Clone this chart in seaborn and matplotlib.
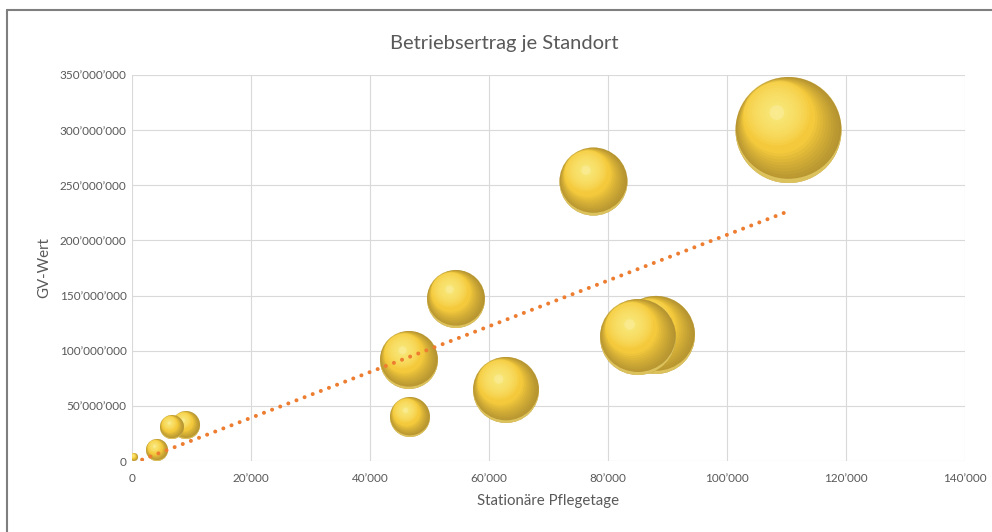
import numpy as np
import pandas as pd
import seaborn as sns
import matplotlib.pyplot as plt
from matplotlib.path import Path
from matplotlib.lines import Line2D
from matplotlib.transforms import Affine2D
from matplotlib.ticker import FuncFormatter

# Standorte: stationaere Pflegetage (x), GV-Wert (y), Blasengroesse
pflegetage = [340, 4200, 9080, 6720, 46720, 46550, 54450, 62860, 77560, 88070, 85040, 110340]
gv_wert = [3.6e6, 10.0e6, 32.6e6, 30.8e6, 39.9e6, 91.6e6, 146.9e6, 64.4e6,
           253.4e6, 114.3e6, 112.4e6, 300.1e6]
groesse = [16, 121, 196, 144, 400, 841, 841, 1089, 1156, 1521, 1444, 2809]

x_ticks = [0, 20000, 40000, 60000, 80000, 100000, 120000, 140000]
y_ticks = [0, 50e6, 100e6, 150e6, 200e6, 250e6, 300e6, 350e6]

df = pd.DataFrame({"pflegetage": pflegetage, "gv_wert": gv_wert, "groesse": groesse})
# bigger bubbles first, smaller ones end up in front
df = df.sort_values("groesse", ascending=False, kind="stable").reset_index(drop=True)

TEXT = "#595959"
GRID = "#D9D9D9"
TREND = "#ED7D31"

sns.set_style("whitegrid", {"grid.color": GRID})
plt.rcParams["font.family"] = ["Lato", "DejaVu Sans"]

fig = plt.figure(figsize=(9.92, 5.32), dpi=100)
ax = fig.add_axes([132 / 992, 1 - 461 / 532, (965 - 132) / 992, (461 - 75) / 532])

# --- shaded "3D" bubbles built from layered marker paths -------------------
ANCHOR = Path([(-1, -1), (1, 1)], [Path.MOVETO, Path.MOVETO])  # fixes marker scale


def disc(center, radius):
    return Path.make_compound_path(ANCHOR, Path.circle(center=center, radius=radius))


def crescent(inner):
    # unit circle with the inner shape cut out (reversed winding -> hole)
    v = inner.vertices[:-1][::-1]
    v = np.vstack([v, v[:1]])
    codes = [Path.MOVETO] + [Path.CURVE4] * (len(v) - 2) + [Path.CLOSEPOLY]
    return Path.make_compound_path(ANCHOR, Path.circle((0, 0), 1.0), Path(v, codes))


light_dir = np.array([-0.6, 0.8])
layers = [(disc((0, 0), 1.0), "#F4CA3C", 1.0)]
for r in np.linspace(0.97, 0.68, 10):
    layers.append((crescent(Path.circle(light_dir * (1 - r) * 0.92, r)), "#6E5828", 0.06))
rim = Path.unit_circle().transformed(Affine2D().scale(0.995, 0.96).translate(0, 0.04))
layers.append((crescent(rim), "#F8E27C", 0.6))
hl = np.array([-0.22, 0.33])
for r in np.linspace(0.62, 0.06, 12):
    layers.append((disc(hl, r), "#FFF28A", 0.12))
layers.append((disc(hl, 0.14), "#FFFBD8", 0.25))

size_max = 5822
for i in range(len(df)):
    row = df.iloc[[i]]
    for path, col, a in layers:
        sns.scatterplot(data=row, x="pflegetage", y="gv_wert", size="groesse",
                        sizes=(0, size_max), size_norm=(0, max(groesse)),
                        marker=path, color=col, alpha=a, edgecolor="none",
                        linewidth=0, legend=False, ax=ax, zorder=2)

# --- linear trend line ----------------------------------------------------
k, d = np.polyfit(pflegetage, gv_wert, 1)
xt = np.array([min(pflegetage), max(pflegetage)])
sns.lineplot(x=xt, y=k * xt + d, color=TREND, linewidth=2.9,
             linestyle=(0, (0.01, 2.15)), dash_capstyle="round", ax=ax, zorder=3)

ax.set_xlim(0, 140000)
ax.set_ylim(0, 350e6)
ax.set_xticks(x_ticks)
ax.set_yticks(y_ticks)
fmt = FuncFormatter(lambda v, p: f"{v:,.0f}".replace(",", "\u2019"))
ax.xaxis.set_major_formatter(fmt)
ax.yaxis.set_major_formatter(fmt)
ax.grid(True, color=GRID, linewidth=0.8)
for s in ax.spines.values():
    s.set_visible(False)
ax.tick_params(axis="both", length=0, labelsize=8.5, labelcolor=TEXT)
ax.tick_params(axis="x", pad=9)
ax.tick_params(axis="y", pad=4)

ax.set_xlabel("Station\u00e4re Pflegetage", fontsize=10.8, color=TEXT, labelpad=7)
ax.set_ylabel("GV-Wert", fontsize=10.8, color=TEXT, labelpad=6)
fig.text(504 / 992, 1 - 44 / 532, "Betriebsertrag je Standort", ha="center",
         va="center", fontsize=14.5, color=TEXT)

# outer chart frame (only left and top edge visible)
fig.add_artist(Line2D([7 / 992, 7 / 992], [0, 1 - 10 / 532], transform=fig.transFigure,
                      color="#7F7F7F", linewidth=1.5))
fig.add_artist(Line2D([7 / 992, 1], [1 - 10 / 532, 1 - 10 / 532], transform=fig.transFigure,
                      color="#7F7F7F", linewidth=1.5))

fig.savefig("out.png", dpi=100)
